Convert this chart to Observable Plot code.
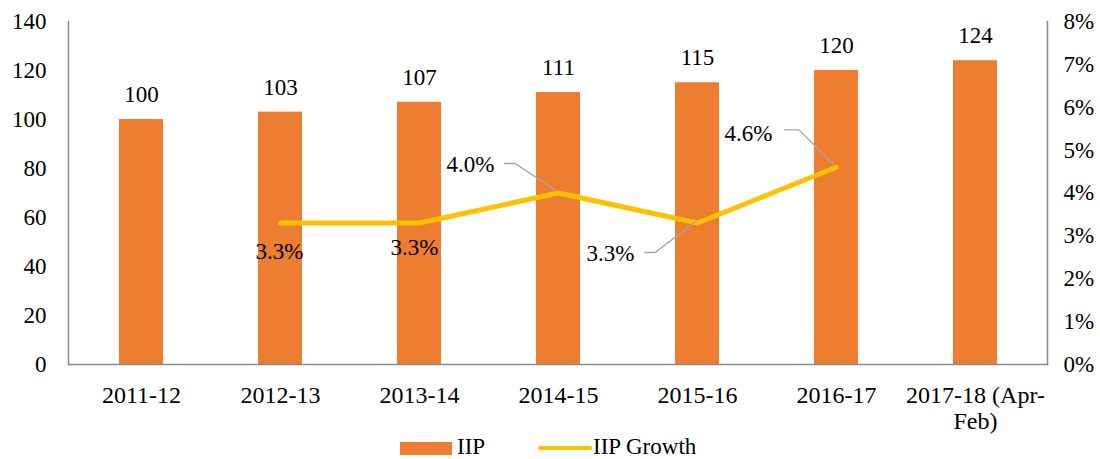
<!DOCTYPE html>
<html>
<head>
<meta charset="utf-8">
<script src="https://cdn.jsdelivr.net/npm/d3@7"></script>
<script src="https://cdn.jsdelivr.net/npm/@observablehq/plot@0.6"></script>
<style>
  html, body { margin: 0; padding: 0; background: #fff; }
  #wrap { position: relative; width: 1100px; height: 459px; font-family: "Liberation Serif", "Times New Roman", serif; }
  #chart svg { display: block; }
  .lg { position: absolute; font-size: 23px; color: #000; line-height: 20px; white-space: nowrap; }
</style>
</head>
<body>
<div id="wrap">
  <div id="chart"></div>
  <div id="legend"></div>
</div>
<script>
// ---- data ----
const categories = ["2011-12", "2012-13", "2013-14", "2014-15", "2015-16", "2016-17", "2017-18 (Apr-Feb)"];
const iipValues = [100, 103, 107, 111, 115, 120, 124];
const growthCategories = ["2012-13", "2013-14", "2014-15", "2015-16", "2016-17"];
const growthValues = [3.3, 3.3, 4.0, 3.3, 4.6];
const leftTicks = [0, 20, 40, 60, 80, 100, 120, 140];
const rightTicks = [0, 1, 2, 3, 4, 5, 6, 7, 8];
const seriesNames = ["IIP", "IIP Growth"];

// ---- layout config (label offsets in px, relative to the data point) ----
const labelOffsets = [
  {dx: -1, dy: 29},
  {dx: -5, dy: 25},
  {dx: -88, dy: -28},
  {dx: -87, dy: 31},
  {dx: -88, dy: -34}
];
// leader lines: [start, elbow, end] offsets, null where none
const leaderOffsets = [
  null,
  null,
  [[-54, -29], [-43, -29], [-2, -2]],
  [[-53, 30], [-42, 30], [0, -2]],
  [[-52, -37], [-37, -37], [-2, -2]]
];

const BAR = "#ED7D31", LINE = "#FFC000", AXIS = "#8c8c8c", LEAD = "#A6A6A6";
const yMax = 140, rMax = 8;
const toLeft = g => g * yMax / rMax;

const iipData = categories.map((c, i) => ({cat: c, v: iipValues[i]}));
const growthData = growthCategories.map((c, i) => ({cat: c, g: growthValues[i]}));

const FS = 23;

const labelMarks = growthData.map((d, i) =>
  Plot.text([d], {
    x: "cat", y: e => toLeft(e.g),
    text: e => e.g.toFixed(1) + "%",
    dx: labelOffsets[i].dx, dy: labelOffsets[i].dy,
    fontSize: FS, fill: "#000"
  })
);

const leaderMark = (index, scales, values, dims) => {
  const g = d3.create("svg:g");
  const bw = scales.x.bandwidth ? scales.x.bandwidth() : 0;
  growthData.forEach((d, i) => {
    const off = leaderOffsets[i];
    if (!off) return;
    const px = scales.x(d.cat) + bw / 2;
    const py = scales.y(toLeft(d.g));
    g.append("path")
      .attr("d", d3.line()(off.map(([ox, oy]) => [px + ox, py + oy])))
      .attr("fill", "none")
      .attr("stroke", LEAD)
      .attr("stroke-width", 1.3);
  });
  return g.node();
};

const chart = Plot.plot({
  width: 1100,
  height: 436,
  marginTop: 21,
  marginBottom: 72,
  marginLeft: 68,
  marginRight: 53,
  style: {fontFamily: "'Liberation Serif', 'Times New Roman', serif", fontSize: FS + "px", color: "#000", background: "#fff"},
  x: {domain: categories, paddingInner: 0.686, paddingOuter: 0.343},
  y: {domain: [0, yMax]},
  marks: [
    Plot.barY(iipData, {x: "cat", y: "v", fill: BAR}),
    Plot.text(iipData, {x: "cat", y: "v", text: d => String(d.v), dy: -25, fontSize: FS, fill: "#000"}),
    Plot.frame({anchor: "left", stroke: AXIS, strokeWidth: 1.5}),
    Plot.frame({anchor: "right", stroke: AXIS, strokeWidth: 1.5}),
    Plot.frame({anchor: "bottom", stroke: AXIS, strokeWidth: 1.5}),
    Plot.axisY({ticks: leftTicks, tickSize: 0, tickPadding: 22, fontSize: FS, label: null, tickFormat: d => String(d)}),
    Plot.axisY({anchor: "right", ticks: rightTicks.map(toLeft), tickSize: 0, tickPadding: 16, fontSize: FS, label: null,
      tickFormat: d => Math.round(d * rMax / yMax) + "%"}),
    Plot.axisX({tickSize: 0, tickPadding: 21, fontSize: 24, label: null, lineHeight: 1.05,
      tickFormat: d => d.replace("(Apr-", "(Apr-\n")}),
    Plot.line(growthData, {x: "cat", y: d => toLeft(d.g), stroke: LINE, strokeWidth: 5, strokeLinecap: "round", strokeLinejoin: "round"}),
    leaderMark,
    ...labelMarks
  ]
});
document.getElementById("chart").appendChild(chart);

// ---- legend (below the SVG) ----
const legend = document.getElementById("legend");
legend.innerHTML = `
  <div style="position:absolute;left:400px;top:442px;width:52px;height:13px;background:${BAR}"></div>
  <div class="lg" style="left:457px;top:437px">${seriesNames[0]}</div>
  <div style="position:absolute;left:538px;top:446px;width:54px;height:4px;border-radius:2px;background:${LINE}"></div>
  <div class="lg" style="left:593px;top:437px">${seriesNames[1]}</div>
`;
</script>
</body>
</html>
